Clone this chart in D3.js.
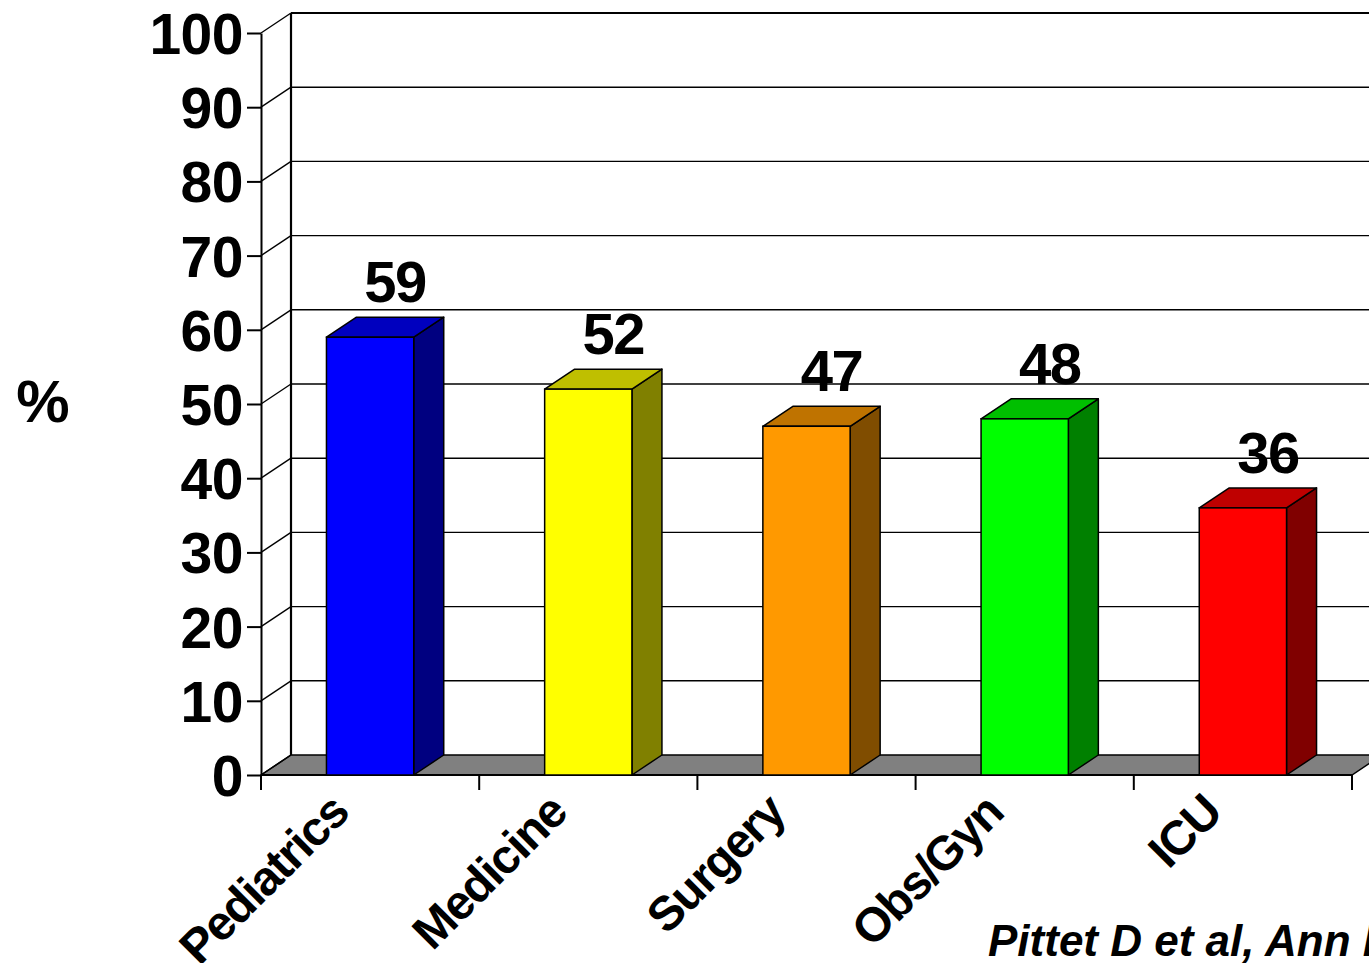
<!DOCTYPE html>
<html lang="en">
<head>
  <meta charset="UTF-8" />
  <title>Hand hygiene compliance by ward</title>
  <script src="https://d3js.org/d3.v7.min.js"></script>
  <style>
    body {
      margin: 0;
      background: #fff;
      overflow: hidden;
    }

    svg {
      display: block;
      font-family: "Liberation Sans", Arial, sans-serif;
      font-weight: bold;
    }
  </style>
</head>
<body>
  <svg width="1369" height="963"></svg>
  <script>
    // data
    const wards = ["Pediatrics", "Medicine", "Surgery", "Obs/Gyn", "ICU"];
    const compliance = [59, 52, 47, 48, 36];
    const frontColors = ["#0000ff", "#ffff00", "#ff9900", "#00ff00", "#ff0000"];
    const yTicks = [0, 10, 20, 30, 40, 50, 60, 70, 80, 90, 100];

    const svg = d3.select("svg");

    const plotLeft = 261, plotRight = 1352, plotBottom = 775, plotTop = 33;
    const dx = 30, dy = -20;

    const x = d3.scaleBand()
      .domain(wards)
      .range([plotLeft, plotRight])
      .paddingInner(0.6)
      .paddingOuter(0.3);

    const y = d3.scaleLinear()
      .domain([0, 100])
      .range([plotBottom, plotTop]);

    const rows = wards.map((w, i) => ({ ward: w, value: compliance[i], color: frontColors[i] }));

    // floor
    svg.append("path")
      .attr("d", `M${plotLeft},${plotBottom} L${plotLeft + dx},${plotBottom + dy} L${plotRight + dx},${plotBottom + dy} L${plotRight},${plotBottom} Z`)
      .attr("fill", "#808080")
      .attr("stroke", "#000")
      .attr("stroke-width", 1.5);

    // back wall gridlines
    const grid = svg.append("g");
    grid.selectAll("line.h")
      .data(yTicks.slice(1))
      .join("line")
      .attr("class", "h")
      .attr("x1", plotLeft + dx)
      .attr("x2", 1369)
      .attr("y1", d => y(d) + dy)
      .attr("y2", d => y(d) + dy)
      .attr("stroke", "#000")
      .attr("stroke-width", d => d === 100 ? 2 : 1.4);

    // side wall diagonals
    grid.selectAll("line.d")
      .data(yTicks)
      .join("line")
      .attr("class", "d")
      .attr("x1", plotLeft)
      .attr("x2", plotLeft + dx)
      .attr("y1", d => y(d))
      .attr("y2", d => y(d) + dy)
      .attr("stroke", "#000")
      .attr("stroke-width", 1.4);

    grid.append("line")
      .attr("x1", plotLeft + dx).attr("x2", plotLeft + dx)
      .attr("y1", y(100) + dy).attr("y2", y(0) + dy)
      .attr("stroke", "#000")
      .attr("stroke-width", 2.2);

    // y axis
    const yAxis = svg.append("g")
      .attr("transform", `translate(${plotLeft},0)`)
      .call(d3.axisLeft(y).tickValues(yTicks).tickSize(14).tickPadding(4).tickSizeOuter(0));
    yAxis.select(".domain").attr("stroke-width", 2);
    yAxis.selectAll(".tick line").attr("stroke-width", 2);
    yAxis.selectAll(".tick text")
      .attr("font-family", "Liberation Sans, Arial, sans-serif")
      .attr("font-weight", "bold")
      .attr("font-size", 57)
      .attr("letter-spacing", -0.5)
      .attr("fill", "#000")
      .attr("dy", "0.36em");

    // x axis ticks at band edges
    const edges = wards.map(w => x(w) - x.step() * x.paddingOuter()).concat([plotRight]);
    svg.append("g").selectAll("line")
      .data(edges)
      .join("line")
      .attr("x1", d => d).attr("x2", d => d)
      .attr("y1", plotBottom).attr("y2", plotBottom + 15)
      .attr("stroke", "#000")
      .attr("stroke-width", 2);
    svg.append("line")
      .attr("x1", plotLeft).attr("x2", plotRight)
      .attr("y1", plotBottom).attr("y2", plotBottom)
      .attr("stroke", "#000").attr("stroke-width", 2);

    // bars
    const bars = svg.append("g").selectAll("g")
      .data(rows)
      .join("g");

    const bw = x.bandwidth();

    bars.append("path")
      .attr("d", d => {
        const x0 = x(d.ward) + bw, y0 = y(d.value);
        return `M${x0},${y0} L${x0 + dx},${y0 + dy} L${x0 + dx},${plotBottom + dy} L${x0},${plotBottom} Z`;
      })
      .attr("fill", d => d3.interpolateRgb(d.color, "#000")(0.5))
      .attr("stroke", "#000")
      .attr("stroke-width", 1.5)
      .attr("stroke-linejoin", "round");

    bars.append("path")
      .attr("d", d => {
        const x0 = x(d.ward), y0 = y(d.value);
        return `M${x0},${y0} L${x0 + dx},${y0 + dy} L${x0 + bw + dx},${y0 + dy} L${x0 + bw},${y0} Z`;
      })
      .attr("fill", d => d3.interpolateRgb(d.color, "#000")(0.25))
      .attr("stroke", "#000")
      .attr("stroke-width", 1.5)
      .attr("stroke-linejoin", "round");

    bars.append("rect")
      .attr("x", d => x(d.ward))
      .attr("y", d => y(d.value))
      .attr("width", bw)
      .attr("height", d => plotBottom - y(d.value))
      .attr("fill", d => d.color)
      .attr("stroke", "#000")
      .attr("stroke-width", 1.5);

    // value labels
    bars.append("text")
      .attr("x", d => x(d.ward) + bw / 2 + 25)
      .attr("y", d => y(d.value) + dy - 15)
      .attr("text-anchor", "middle")
      .attr("font-size", 58)
      .attr("letter-spacing", -1.5)
      .text(d => d.value);

    // category labels
    svg.append("g").selectAll("text")
      .data(wards)
      .join("text")
      .attr("transform", w => `translate(${x(w) + bw / 2 - 19},${plotBottom + 40}) rotate(-45)`)
      .attr("text-anchor", "end")
      .attr("font-size", 48)
      .attr("letter-spacing", -1.5)
      .text(w => w);

    // axis title
    svg.append("text")
      .attr("x", 43)
      .attr("y", 422)
      .attr("text-anchor", "middle")
      .attr("font-size", 60)
      .text("%");

    // source
    svg.append("text")
      .attr("x", 988)
      .attr("y", 956)
      .attr("font-size", 44)
      .attr("font-style", "italic")
      .text("Pittet D et al, Ann Intern Med 1999");
  </script>
</body>
</html>
